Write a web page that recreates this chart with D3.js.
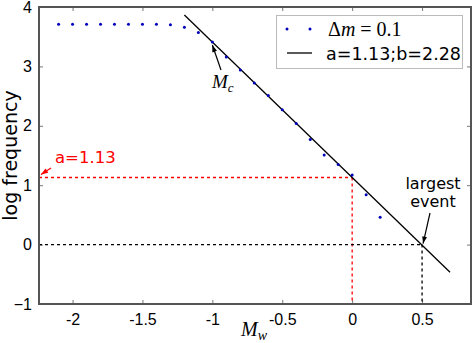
<!DOCTYPE html>
<html>
<head>
<meta charset="utf-8">
<script src="https://cdn.jsdelivr.net/npm/d3@7"></script>
<style>
  body { margin: 0; background: #fff; }
  svg { display: block; font-family: "DejaVu Sans", sans-serif; }
  .tick text { font-size: 16px; fill: #000; }
  .tick line { stroke: #777; }
  .domain { display: none; }
</style>
</head>
<body>
<div id="chart"></div>
<script>
// data
var binMag = [-2.1, -2.0, -1.9, -1.8, -1.7, -1.6, -1.5, -1.4, -1.3, -1.2, -1.1, -1.0, -0.9,
              -0.8, -0.7, -0.6, -0.5, -0.4, -0.3, -0.2, -0.1, 0.0, 0.1, 0.2];
var logFreq = [3.71, 3.71, 3.71, 3.71, 3.71, 3.71, 3.71, 3.71, 3.70, 3.66, 3.57, 3.41, 3.16,
               2.94, 2.72, 2.51, 2.27, 2.04, 1.77, 1.51, 1.35, 1.17, 0.84, 0.46];
var aVal = 1.13, bVal = 2.28;
var fitRange = [-1.2, 0.7];
var largestEvent = 0.5;
var xTicks = [-2, -1.5, -1, -0.5, 0, 0.5];
var xTickLabels = ["-2", "-1.5", "-1", "-0.5", "0", "0.5"];
var yTicks = [-1, 0, 1, 2, 3, 4];

var width = 472, height = 343;
// NB "top" is taken by window.top, so use prefixed names
var mLeft = 39, mRight = 471, mTop = 7, mBottom = 304;

var svg = d3.select("#chart").append("svg")
    .attr("width", width)
    .attr("height", height);

var x = d3.scaleLinear().domain([-2.24, 0.85]).range([mLeft, mRight]);
var y = d3.scaleLinear().domain([-1, 4]).range([mBottom, mTop]);

// axes, ticks inward on all four sides
var fmtX = function(d, i) { return xTickLabels[i]; };
svg.append("g").attr("transform", "translate(0," + mBottom + ")")
  .call(d3.axisBottom(x).tickValues(xTicks).tickSizeInner(-4).tickSizeOuter(0).tickPadding(10).tickFormat(fmtX));
svg.append("g").attr("transform", "translate(0," + mTop + ")")
  .call(d3.axisTop(x).tickValues(xTicks).tickSizeInner(-4).tickSizeOuter(0).tickFormat(""));
svg.append("g").attr("transform", "translate(" + mLeft + ",0)")
  .call(d3.axisLeft(y).tickValues(yTicks).tickSizeInner(-4).tickSizeOuter(0).tickPadding(7).tickFormat(d3.format("d")));
svg.append("g").attr("transform", "translate(" + mRight + ",0)")
  .call(d3.axisRight(y).tickValues(yTicks).tickSizeInner(-4).tickSizeOuter(0).tickFormat(""));

// dashed guide lines
function dashed(x1, y1, x2, y2, col) {
  svg.append("line")
    .attr("x1", x1).attr("y1", y1).attr("x2", x2).attr("y2", y2)
    .attr("stroke", col).attr("stroke-width", 1.3)
    .attr("stroke-dasharray", "3,3");
}
dashed(x(-2.24), y(aVal), x(0), y(aVal), "#ff0000");
dashed(x(0), y(aVal), x(0), y(-1), "#ff0000");
dashed(x(-2.24), y(0), x(largestEvent), y(0), "#000");
dashed(x(largestEvent), y(0), x(largestEvent), y(-1), "#000");

// fitted G-R line: log N = a - b*M
svg.append("line")
  .attr("x1", x(fitRange[0])).attr("y1", y(aVal - bVal * fitRange[0]))
  .attr("x2", x(fitRange[1])).attr("y2", y(aVal - bVal * fitRange[1]))
  .attr("stroke", "#000").attr("stroke-width", 1.3);

// data points
svg.selectAll("circle.pt")
  .data(binMag).enter().append("circle")
  .attr("class", "pt")
  .attr("cx", function(d) { return x(d); })
  .attr("cy", function(d, i) { return y(logFreq[i]); })
  .attr("r", 1.5)
  .attr("fill", "#0000bb");

// frame
svg.append("rect")
  .attr("x", mLeft).attr("y", mTop)
  .attr("width", mRight - mLeft).attr("height", mBottom - mTop)
  .attr("fill", "none").attr("stroke", "#555").attr("stroke-width", 2);

// arrow heads
var defs = svg.append("defs");
function marker(id, col) {
  defs.append("marker").attr("id", id)
    .attr("viewBox", "0 0 10 10").attr("refX", 10).attr("refY", 5)
    .attr("markerWidth", 9).attr("markerHeight", 7)
    .attr("markerUnits", "userSpaceOnUse")
    .attr("orient", "auto")
    .append("path").attr("d", "M0,1.5L10,5L0,8.5Z").attr("fill", col);
}
marker("arrK", "#000");
marker("arrR", "#ff0000");

function arrow(x1, y1, x2, y2, col, m) {
  svg.append("line")
    .attr("x1", x1).attr("y1", y1).attr("x2", x2).attr("y2", y2)
    .attr("stroke", col).attr("stroke-width", 1.2)
    .attr("marker-end", "url(#" + m + ")");
}

// a=1.13 annotation
svg.append("text").attr("x", 55).attr("y", 163)
  .attr("fill", "#ff0000").style("font-size", "16.5px").text("a=" + aVal.toFixed(2));
arrow(51, 168, x(-2.24) + 2, y(aVal) - 3, "#ff0000", "arrR");

// Mc annotation
var mc = svg.append("text").attr("x", 212).attr("y", 88)
  .style("font-family", "'Liberation Serif', serif").style("font-style", "italic").style("font-size", "19px");
mc.append("tspan").text("M");
mc.append("tspan").attr("dy", 4).style("font-size", "13px").text("c");
arrow(221, 70, x(-1.0), y(3.41) + 3, "#000", "arrK");

// largest event annotation
svg.append("text").attr("x", 433).attr("y", 189).attr("text-anchor", "middle")
  .style("font-size", "16px").text("largest");
svg.append("text").attr("x", 433).attr("y", 207).attr("text-anchor", "middle")
  .style("font-size", "16px").text("event");
arrow(430, 213, x(largestEvent) + 1, y(0) - 1, "#000", "arrK");

// legend
svg.append("rect").attr("x", 276.5).attr("y", 15.5).attr("width", 186).attr("height", 53)
  .attr("fill", "#fff").attr("stroke", "#bbb").attr("stroke-width", 1);
[287, 310].forEach(function(cx) {
  svg.append("circle").attr("cx", cx).attr("cy", 29).attr("r", 1.5).attr("fill", "#0000bb");
});
var lg = svg.append("text").attr("x", 328).attr("y", 36)
  .style("font-family", "'Liberation Serif', serif").style("font-size", "20px");
lg.append("tspan").text("Δ");
lg.append("tspan").style("font-style", "italic").text("m");
lg.append("tspan").text(" = 0.1");
svg.append("line").attr("x1", 287).attr("x2", 312).attr("y1", 53).attr("y2", 53)
  .attr("stroke", "#000").attr("stroke-width", 1.3);
svg.append("text").attr("x", 326).attr("y", 60)
  .style("font-size", "17.5px").text("a=" + aVal.toFixed(2) + ";b=" + bVal.toFixed(2));

// axis titles
svg.append("text")
  .attr("transform", "translate(17," + ((mTop + mBottom) / 2) + ") rotate(-90)")
  .attr("text-anchor", "middle").style("font-size", "19px").text("log frequency");
var mw = svg.append("text").attr("x", 241).attr("y", 336)
  .style("font-family", "'Liberation Serif', serif").style("font-style", "italic").style("font-size", "20px");
mw.append("tspan").text("M");
mw.append("tspan").attr("dy", 4).style("font-size", "14px").text("w");
</script>
</body>
</html>
